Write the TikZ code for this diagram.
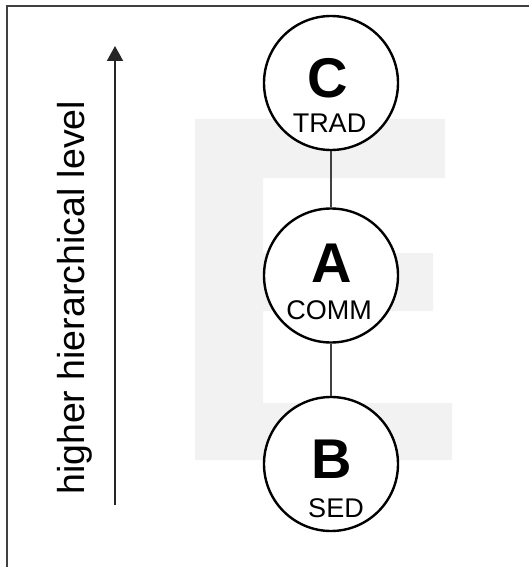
\documentclass[tikz,border=0pt]{standalone}
\usepackage{fontspec}
\setmainfont{Liberation Sans}
\usetikzlibrary{arrows.meta}
\definecolor{framegray}{HTML}{404040}
\definecolor{shadegray}{HTML}{F2F2F2}
\tikzset{
  levelnode/.style={circle, draw=black, line width=2.4pt, fill=white,
    minimum size=134pt, inner sep=0pt},
  biglabel/.style={anchor=base, inner sep=0pt,
    font=\fontsize{56}{56}\selectfont\bfseries},
  smalllabel/.style={anchor=base, inner sep=0pt,
    font=\fontsize{27}{27}\selectfont},
  linkline/.style={draw=framegray, line width=1.4pt}
}
\begin{document}
\begin{tikzpicture}[x=1pt, y=-1pt]
  \useasboundingbox (0,0) rectangle (529,567);
  % outer frame (top and left edges)
  \draw[framegray, line width=2pt] (7,567) -- (7,6) -- (529,6);
  % large pale letter E in the background
  \fill[shadegray] (195,119) -- (445,119) -- (445,178) -- (263,178)
    -- (263,253) -- (433,253) -- (433,311) -- (263,311) -- (263,403)
    -- (452,403) -- (452,460) -- (195,460) -- cycle;
  % hierarchy axis
  \coordinate (axisbot) at (115,505);
  \coordinate (axistop) at (115,46);
  \draw[black!85, line width=2pt, -{Triangle[width=16pt,length=15pt]}]
    (axisbot) -- (axistop);
  \node[rotate=90, anchor=base west, inner sep=0pt,
    font=\fontsize{37.5}{37.5}\selectfont] (axislabel) at (84,495)
    {higher hierarchical level};
  % levels
  \node[levelnode] (c) at (331,83) {};
  \node[levelnode] (a) at (331,275.5) {};
  \node[levelnode] (b) at (331,464) {};
  \draw[linkline] (c) -- (a);
  \draw[linkline] (a) -- (b);
  \node[biglabel] (cl) at (328,98) {C};
  \node[smalllabel] (cs) at (329.5,132) {TRAD};
  \node[biglabel] (al) at (332,282) {A};
  \node[smalllabel] (as) at (329,319) {COMM};
  \node[biglabel] (bl) at (331.5,478) {B};
  \node[smalllabel] (bs) at (336,517) {SED};
\end{tikzpicture}
\end{document}
